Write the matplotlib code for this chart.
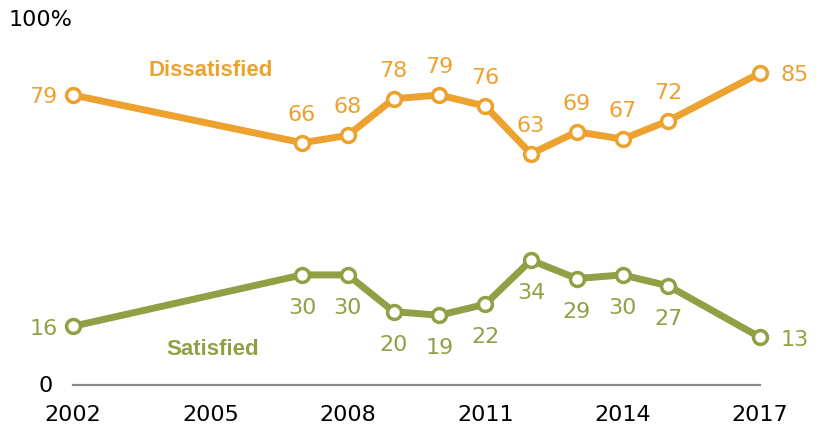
import matplotlib

matplotlib.use("Agg")
import matplotlib.pyplot as plt

plt.rcParams["font.family"] = ["DejaVu Sans"]

years = [2002, 2007, 2008, 2009, 2010, 2011, 2012, 2013, 2014, 2015, 2017]
dissatisfied = [79, 66, 68, 78, 79, 76, 63, 69, 67, 72, 85]
satisfied = [16, 30, 30, 20, 19, 22, 34, 29, 30, 27, 13]
xticks = [2002, 2005, 2008, 2011, 2014, 2017]

ORANGE = "#EDA12E"
OLIVE = "#939F45"
FS = 16

fig = plt.figure(figsize=(8.18, 4.27), dpi=100)
ax = fig.add_axes([73 / 818, 41 / 427, 687 / 818, 367 / 427])
ax.set_xlim(2002, 2017)
ax.set_ylim(0, 100)

for vals, color in ((dissatisfied, ORANGE), (satisfied, OLIVE)):
    ax.plot(years, vals, color=color, lw=5, marker="o", ms=10,
            mfc="white", mec=color, mew=2.5, clip_on=False, zorder=3,
            solid_joinstyle="miter")

# value labels: first point on the left, last on the right, others above/below
def label_series(vals, color, dy):
    n = len(vals)
    for i, (x, v) in enumerate(zip(years, vals)):
        if i == 0:
            off, ha = (-11, -1), "right"
        elif i == n - 1:
            off, ha = (15, -1), "left"
        else:
            off, ha = (0, dy), "center"
        ax.annotate(str(v), (x, v), xytext=off, textcoords="offset points",
                    ha=ha, va="center", fontsize=FS, color=color)


label_series(dissatisfied, ORANGE, 21)
label_series(satisfied, OLIVE, -23)

bold = dict(fontsize=16, fontweight="bold", ha="center", va="center",
            family=["Liberation Sans", "DejaVu Sans"])
ax.text(2005.0, 86, "Dissatisfied", color=ORANGE, **bold)
ax.text(2005.05, 10, "Satisfied", color=OLIVE, **bold)

for s in ("top", "right", "left"):
    ax.spines[s].set_visible(False)
ax.spines["bottom"].set_color("#8c8c8c")
ax.spines["bottom"].set_linewidth(1.6)

ax.set_xticks(xticks)
ax.set_xticklabels([str(t) for t in xticks], fontsize=FS)
ax.tick_params(axis="x", length=0, pad=14)
ax.set_yticks([])

ax.text(-0.03, 0, "0", transform=ax.get_yaxis_transform(), ha="right",
        va="center", fontsize=FS)
fig.text(9 / 818, 1 - 20 / 427, "100%", ha="left", va="center", fontsize=FS)

fig.savefig("out.png", dpi=100)
